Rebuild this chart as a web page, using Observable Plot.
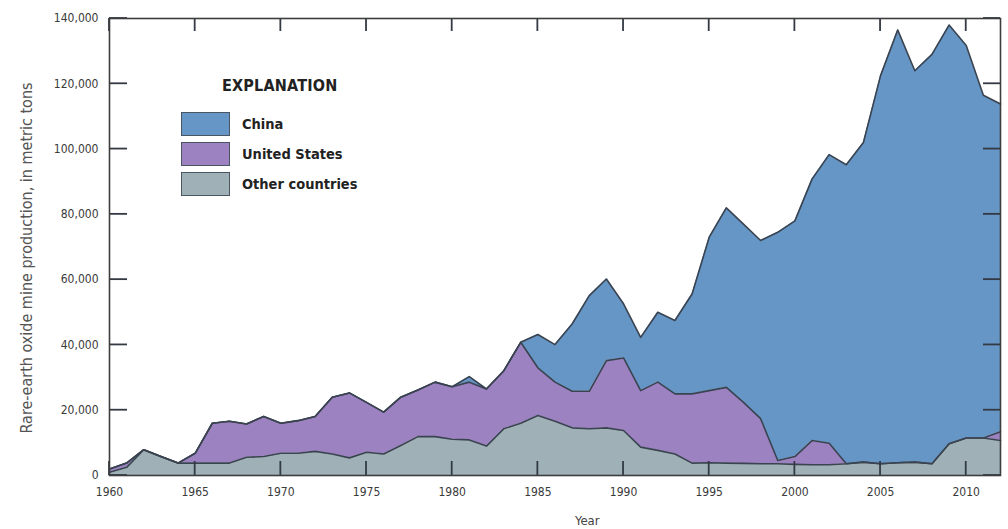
<!DOCTYPE html>
<html>
<head>
<meta charset="utf-8">
<script src="https://cdn.jsdelivr.net/npm/d3@7"></script>
<script src="https://cdn.jsdelivr.net/npm/@observablehq/plot@0.6"></script>
<style>
  html, body { margin: 0; padding: 0; background: #fff; }
  #wrap { position: relative; width: 1008px; height: 529px; font-family: "Liberation Sans Narrow", "DejaVu Sans Condensed", "Roboto", sans-serif; }
  #legend { position: absolute; left: 181px; top: 76px; color: #222; }
  #legend .title { font-weight: bold; font-size: 16px; margin-left: 41px; margin-bottom: 14px; letter-spacing: 0.2px; }
  #legend .row { display: flex; align-items: center; height: 30px; }
  #legend .sw { width: 49px; height: 24px; border: 1.5px solid #4a5562; box-sizing: border-box; margin-right: 12px; }
  #legend .lab { font-weight: bold; font-size: 14.5px; }
  #xlabel { position: absolute; left: 575px; top: 513px; font-size: 13px; color: #444; }
  #ylabel { position: absolute; left: 26px; top: 258px; font-size: 16px; color: #555; white-space: nowrap;
            transform: translate(-50%, -50%) rotate(-90deg); }
</style>
</head>
<body>
<div id="wrap">
  <div id="chart"></div>
  <div id="legend"></div>
  <div id="xlabel">Year</div>
  <div id="ylabel">Rare-earth oxide mine production, in metric tons</div>
</div>
<script>
const years = d3.range(1960, 2013);
// Total production (top of China band), metric tons
const totalVals = [2000,3800,7900,5800,3800,6800,16000,16600,15800,18100,
  16000,16800,18100,24000,25300,22400,19400,24000,26200,28600,
  27200,30300,26500,32000,40800,43200,40100,46400,55100,60200,
  52600,42300,50000,47500,55600,73000,82000,77000,72000,74500,
  78000,90800,98300,95200,102000,122500,136500,124000,129000,138000,
  131700,116500,113800];
// Top of United States band (US + other countries)
const usTopVals = [2000,3800,7900,5800,3800,6800,16000,16600,15800,18100,
  16000,16800,18100,24000,25300,22400,19400,24000,26200,28600,
  27200,28600,26500,32000,40800,33000,28600,25800,25800,35200,
  36000,26000,28600,25000,25000,26000,27000,22400,17400,4600,
  5800,10700,9900,3600,4100,3600,3900,4100,3600,9700,
  11500,11500,13400];
// Other countries
const otherVals = [1000,2500,7900,5800,3800,3800,3800,3800,5600,5800,
  6800,6800,7400,6600,5400,7100,6600,9200,11900,11900,
  11100,10900,9000,14300,16000,18400,16600,14600,14300,14600,
  13800,8700,7700,6600,3800,3900,3800,3700,3600,3600,
  3400,3300,3300,3600,4100,3600,3900,4100,3600,9700,
  11500,11500,10700];

const seriesNames = ["Other countries", "United States", "China"];
const legendOrder = ["China", "United States", "Other countries"];
const seriesColors = ["#9fb1b6", "#9d82c2", "#6696c5"];
const xTicks = [1960,1965,1970,1975,1980,1985,1990,1995,2000,2005,2010];
const yTicks = [0,20000,40000,60000,80000,100000,120000,140000];

const data = [];
years.forEach((yr, i) => data.push({year: yr, series: "Other countries", value: otherVals[i]}));
years.forEach((yr, i) => data.push({year: yr, series: "United States", value: usTopVals[i] - otherVals[i]}));
years.forEach((yr, i) => data.push({year: yr, series: "China", value: totalVals[i] - usTopVals[i]}));

const W = 1008, H = 529;
const mL = 109, mR = 8, mT = 18, mB = 54;
const ink = "#3a4350";

// inward ticks on all four sides of the frame, placed with the plot's scales
function frameTicks(index, scales, values, dims) {
  const {x, y} = scales;
  const l = dims.marginLeft, r = dims.width - dims.marginRight;
  const t = dims.marginTop, b = dims.height - dims.marginBottom;
  const g = d3.create("svg:g").attr("stroke", "#333a44").attr("stroke-width", 1.8).attr("fill", "none");
  xTicks.forEach(v => {
    const px = x(v);
    g.append("line").attr("x1", px).attr("x2", px).attr("y1", b).attr("y2", b - 14);
    g.append("line").attr("x1", px).attr("x2", px).attr("y1", t).attr("y2", t + 13);
  });
  yTicks.forEach(v => {
    const py = y(v);
    g.append("line").attr("x1", l).attr("x2", l + 18).attr("y1", py).attr("y2", py);
    g.append("line").attr("x1", r - 17).attr("x2", r).attr("y1", py).attr("y2", py);
  });
  return g.node();
}

const chart = Plot.plot({
  width: W, height: H,
  marginLeft: mL, marginRight: mR, marginTop: mT, marginBottom: mB,
  style: { fontFamily: '"Liberation Sans Narrow", "DejaVu Sans Condensed", Roboto, sans-serif', fontSize: "12px", color: "#3a3a3a", background: "#fff" },
  x: { domain: [1960, 2012] },
  y: { domain: [0, 140000] },
  color: { domain: seriesNames, range: seriesColors },
  marks: [
    Plot.areaY(data, { x: "year", y: "value", z: "series", fill: "series", curve: "linear" }),
    Plot.lineY(data, Plot.stackY2({ x: "year", y: "value", z: "series", stroke: ink, strokeWidth: 1.6, strokeLinejoin: "round" })),
    frameTicks,
    Plot.frame({ stroke: "#3d3d3d", strokeWidth: 1.6 }),
    Plot.axisY({ ticks: yTicks, tickSize: 0, tickPadding: 11, tickFormat: d3.format(","), label: null, fontSize: 12 }),
    Plot.axisX({ ticks: xTicks, tickSize: 0, tickPadding: 12, tickFormat: d => String(d), label: null, fontSize: 12 })
  ]
});
document.getElementById("chart").appendChild(chart);

const legend = document.getElementById("legend");
const t = document.createElement("div");
t.className = "title"; t.textContent = "EXPLANATION";
legend.appendChild(t);
legendOrder.forEach(name => {
  const row = document.createElement("div"); row.className = "row";
  const sw = document.createElement("div"); sw.className = "sw";
  sw.style.background = seriesColors[seriesNames.indexOf(name)];
  const lab = document.createElement("div"); lab.className = "lab"; lab.textContent = name;
  row.appendChild(sw); row.appendChild(lab); legend.appendChild(row);
});
</script>
</body>
</html>
